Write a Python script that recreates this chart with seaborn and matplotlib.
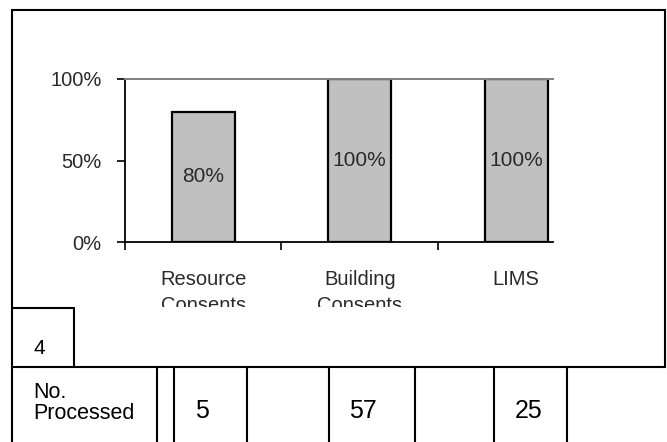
import matplotlib
matplotlib.use("Agg")
import matplotlib.pyplot as plt
import seaborn as sns
import pandas as pd
from matplotlib.patches import Rectangle
from matplotlib.lines import Line2D

# ---- data ----
categories = ["Resource\nConsents", "Building\nConsents", "LIMS"]
pct_values = [0.80, 1.00, 1.00]
bar_labels = ["80%", "100%", "100%"]
ytick_values = [0.0, 0.5, 1.0]
ytick_labels = ["0%", "50%", "100%"]
processed = [5, 57, 25]
row_label = "No.\nProcessed"
corner_value = "4"

sns.set_theme(style="white")
plt.rcParams["font.family"] = ["Liberation Sans", "DejaVu Sans"]

W, H = 667, 442
fig = plt.figure(figsize=(W / 100, H / 100), dpi=100)
fig.patch.set_facecolor("white")

def fx(x):
    return x / W

def fy(y):
    return 1 - y / H

# axes placement (pixels): left 125, right 553, top 79, bottom 242
ax = fig.add_axes([fx(125), fy(242), fx(553) - fx(125), fy(79) - fy(242)])

df = pd.DataFrame({"cat": categories, "val": pct_values})
sns.barplot(data=df, x="cat", y="val", ax=ax, color="#C0C0C0",
            edgecolor="black", linewidth=1.6, width=0.40, saturation=1)

ax.set_ylim(0, 1)
ax.set_xlim(-0.5, 2.235)
ax.set_xlabel("")
ax.set_ylabel("")
ax.set_facecolor("white")

ax.spines["right"].set_visible(False)
ax.spines["top"].set_color("#808080")
ax.spines["top"].set_linewidth(1.4)
for s in ["left", "bottom"]:
    ax.spines[s].set_color("black")
    ax.spines[s].set_linewidth(1.3)

txtcol = "#2a2a2a"
ax.set_yticks(ytick_values, ytick_labels)
ax.tick_params(axis="y", length=6, width=1.2, color="black", direction="out",
               pad=11, labelsize=14.5, labelcolor=txtcol, left=True)

# boundaries as major ticks, category names as minor ticks
ax.set_xticks([-0.5, 0.5, 1.5], ["", "", ""])
ax.set_xticks([0, 1, 2], categories, minor=True)
ax.tick_params(axis="x", which="major", length=6, width=1.2, color="black",
               direction="out", bottom=True)
ax.tick_params(axis="x", which="minor", length=0, pad=20, labelsize=14.5,
               labelcolor=txtcol)
for t in ax.get_xticklabels(minor=True):
    t.set_linespacing(1.45)

for i, (v, lab) in enumerate(zip(pct_values, bar_labels)):
    ax.text(i, v / 2, lab, ha="center", va="center", fontsize=15, color=txtcol)

# mask: the category labels are cut off at the lower part of the chart frame
fig.add_artist(Rectangle((fx(80), fy(366)), fx(660) - fx(80), fy(307) - fy(366),
                         transform=fig.transFigure, facecolor="white",
                         edgecolor="none", zorder=1.5))

# ---- outer frame and table-like structure ----
lw = 1.5
fig.add_artist(Rectangle((fx(12), fy(367)), fx(665) - fx(12), fy(10) - fy(367),
                         transform=fig.transFigure, fill=False,
                         edgecolor="black", linewidth=lw, zorder=2))
fig.add_artist(Line2D([fx(74), fx(74)], [fy(308), fy(367)], color="black", lw=lw,
                      transform=fig.transFigure, zorder=2))
fig.add_artist(Line2D([fx(12), fx(74)], [fy(308), fy(308)], color="black", lw=lw,
                      transform=fig.transFigure, zorder=2))
fig.text(fx(33), fy(349), corner_value, ha="left", va="center", fontsize=15,
         color="black", zorder=3)

for x in [12, 157, 174, 247, 329, 415, 494, 567]:
    fig.add_artist(Line2D([fx(x), fx(x)], [fy(367), 0], color="black", lw=lw,
                          transform=fig.transFigure, zorder=2))
fig.text(fx(33), fy(403), row_label, ha="left", va="center", fontsize=15.5,
         color="black", linespacing=1.05, zorder=3)
for xc, n in zip([202, 363, 529], processed):
    fig.text(fx(xc), fy(411), str(n), ha="center", va="center", fontsize=18,
             color="black", zorder=3)

fig.savefig("out.png", dpi=100)
